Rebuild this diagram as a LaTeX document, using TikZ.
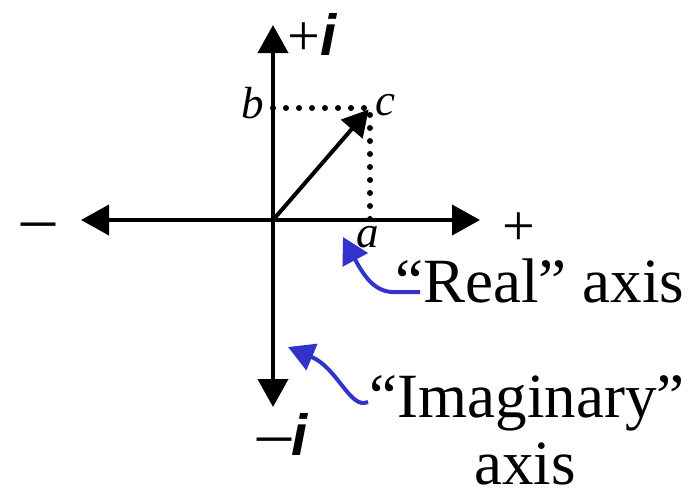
\documentclass[tikz,border=0pt]{standalone}
\usepackage{fontspec}
\setmainfont{Liberation Serif}
\newfontfamily\arialfont{Liberation Sans}
\usetikzlibrary{arrows.meta,positioning,calc}
\definecolor{pointblue}{RGB}{51,51,204}
\newcommand{\ibold}{{\arialfont\bfseries\itshape i}}
\newcommand{\bigdash}{{\fontsize{34}{38}\selectfont –}}
\tikzset{
  axis/.style={line width=2pt, {Triangle[length=14pt,width=15pt]}-{Triangle[length=14pt,width=15pt]}},
  vec/.style={line width=2pt, -{Triangle[length=13pt,width=14pt]}},
  guide/.style={line width=3pt, line cap=round, dash pattern=on 0pt off 6.5pt},
  pointer/.style={line width=2pt, draw=pointblue, -{Triangle[length=13pt,width=14pt]}, color=pointblue},
  lbl/.style={inner sep=0pt, font=\fontsize{22.5}{26}\selectfont\itshape},
  sign/.style={inner sep=0pt, font=\fontsize{29}{33}\selectfont},
  caption/.style={inner sep=0pt, font=\fontsize{31.5}{36}\selectfont}
}
\begin{document}
\begin{tikzpicture}[x=0.5pt,y=-0.5pt]
  \useasboundingbox (0,0) rectangle (690,494);
  % axes and point
  \coordinate (O) at (273,220);
  \coordinate (west) at (81,220);
  \coordinate (east) at (480,220);
  \coordinate (north) at (273,25);
  \coordinate (south) at (273,407);
  \coordinate (c) at (370,108);
  \coordinate (a) at (370,220);
  \coordinate (b) at (273,108);
  \draw[guide] (b) -- (c) -- (a);
  \draw[axis] (west) -- (east);
  \draw[axis] (north) -- (south);
  \draw[vec, shorten >=1pt] (O) -- (c);
  % labels
  \node[lbl, anchor=base] (blbl) at (253,118) {b};
  \node[lbl, anchor=base] (clbl) at (385,115) {c};
  \node[lbl, anchor=base] (albl) at (368,247) {a};
  \node[sign, anchor=base] (minus) at (38,240) {\bigdash};
  \node[sign, anchor=base] (plus) at (519,245) {+};
  \node[sign, anchor=base west] (plusi) at (287,55) {+\ibold};
  \node[sign, anchor=base west] (minusi) at (257,455) {\bigdash\ibold};
  % captions
  \node[caption, anchor=base west] (real) at (395,302) {“Real” axis};
  \node[caption, anchor=base] (imag) at (527,417) {“Imaginary”};
  \node[caption, anchor=base] (imagaxis) at (525,484) {axis};
  \coordinate (realfrom) at (420,292);
  \coordinate (imagfrom) at (368,402);
  \coordinate (realtip) at (343,237);
  \coordinate (imagtip) at (288,347);
  \draw[pointer] (realfrom) -- (392,292) .. controls (375,291) and (365,278) .. (realtip);
  \draw[pointer] (imagfrom) .. controls (350,410) and (338,368) .. (imagtip);
\end{tikzpicture}
\end{document}
